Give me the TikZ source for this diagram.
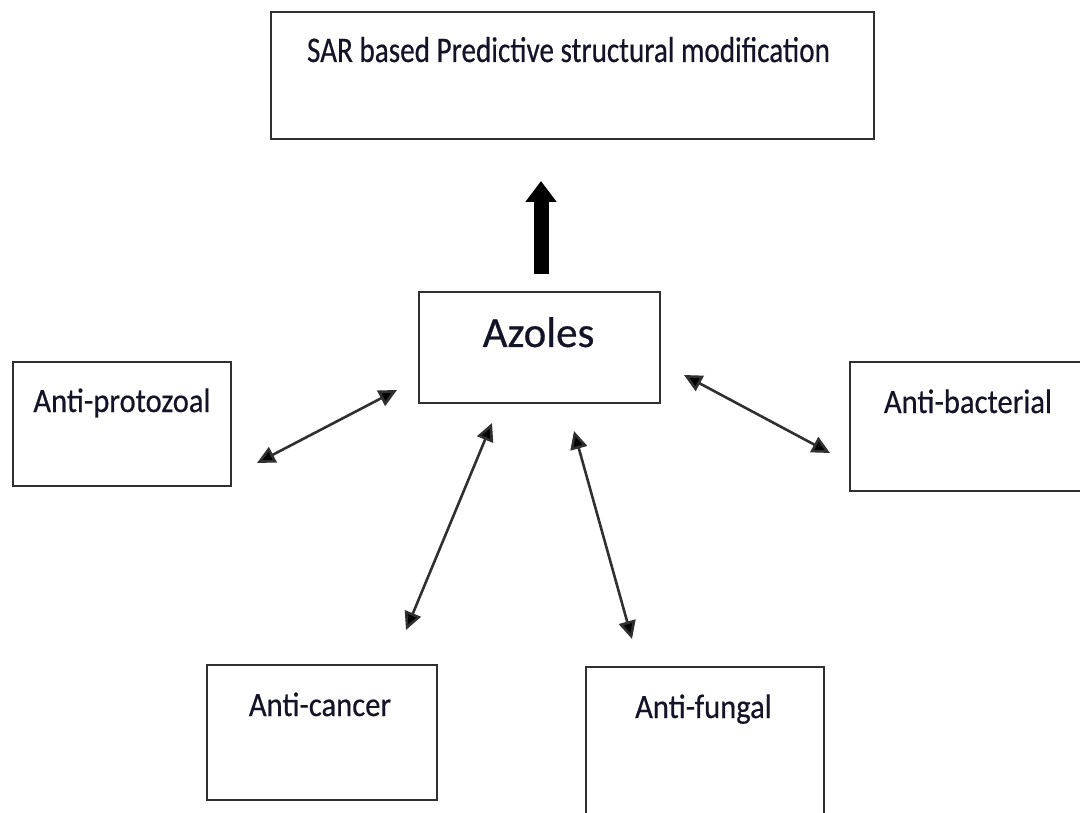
\documentclass[tikz,border=0pt]{standalone}
\usepackage{fontspec}
\setmainfont{Carlito}
\newfontface\heavyfont{Carlito}[FakeBold=0.5]
\usetikzlibrary{arrows.meta}
\definecolor{boxline}{HTML}{303030}
\definecolor{txt}{HTML}{141428}
\tikzset{
  box/.style={draw=boxline, line width=2pt, fill=white, inner sep=0pt},
  lbl/.style={anchor=base, inner sep=0pt, text=txt, xscale=0.9, transform shape, font=\heavyfont\fontsize{34}{40}\selectfont},
  link/.style={draw=boxline, line width=2.6pt, {Triangle[length=18pt,width=17pt,fill=black]}-{Triangle[length=18pt,width=17pt,fill=black]}},
  bigarrow/.style={draw=black, line width=15pt, -{Triangle[length=21pt,width=30pt]}}
}
\begin{document}
\begin{tikzpicture}[x=1pt,y=-1pt]
\clip (0,0) rectangle (1080,813);
\fill[white] (0,0) rectangle (1080,813);
% boxes
\node[box, minimum width=603pt, minimum height=127pt] (sar) at (572.5,75.5) {};
\node[box, minimum width=241pt, minimum height=111pt] (azo) at (539.5,347.5) {};
\node[box, minimum width=218pt, minimum height=124pt] (pro) at (122,424) {};
\node[box, minimum width=240pt, minimum height=129pt] (bac) at (970,426.5) {};
\node[box, minimum width=230pt, minimum height=135pt] (can) at (322,732.5) {};
\node[box, minimum width=238pt, minimum height=160pt] (fun) at (705,747) {};
% texts
\node[lbl, font=\heavyfont\fontsize{36}{42}\selectfont, xscale=0.9, transform shape] (tsar) at (568.5,62) {SAR based Predictive structural modification};
\node[lbl, xscale=1/0.9, font=\heavyfont\fontsize{43}{50}\selectfont] (tazo) at (538.5,347) {Azoles};
\node[lbl] (tpro) at (122,412) {Anti-protozoal};
\node[lbl] (tbac) at (968,413) {Anti-bacterial};
\node[lbl] (tcan) at (320,716) {Anti-cancer};
\node[lbl] (tfun) at (703.5,718) {Anti-fungal};
% connector end points
\coordinate (b0) at (541,274);
\coordinate (b1) at (541,181);
\coordinate (p0) at (397,390);
\coordinate (p1) at (257,463);
\coordinate (q0) at (684,375);
\coordinate (q1) at (830,453);
\coordinate (c0) at (492,423);
\coordinate (c1) at (406,630);
\coordinate (f0) at (574,431);
\coordinate (f1) at (632,639);
\draw[bigarrow] (b0) -- (b1);
\draw[link] (p1) -- (p0);
\draw[link] (q0) -- (q1);
\draw[link] (c1) -- (c0);
\draw[link] (f0) -- (f1);
\end{tikzpicture}
\end{document}
